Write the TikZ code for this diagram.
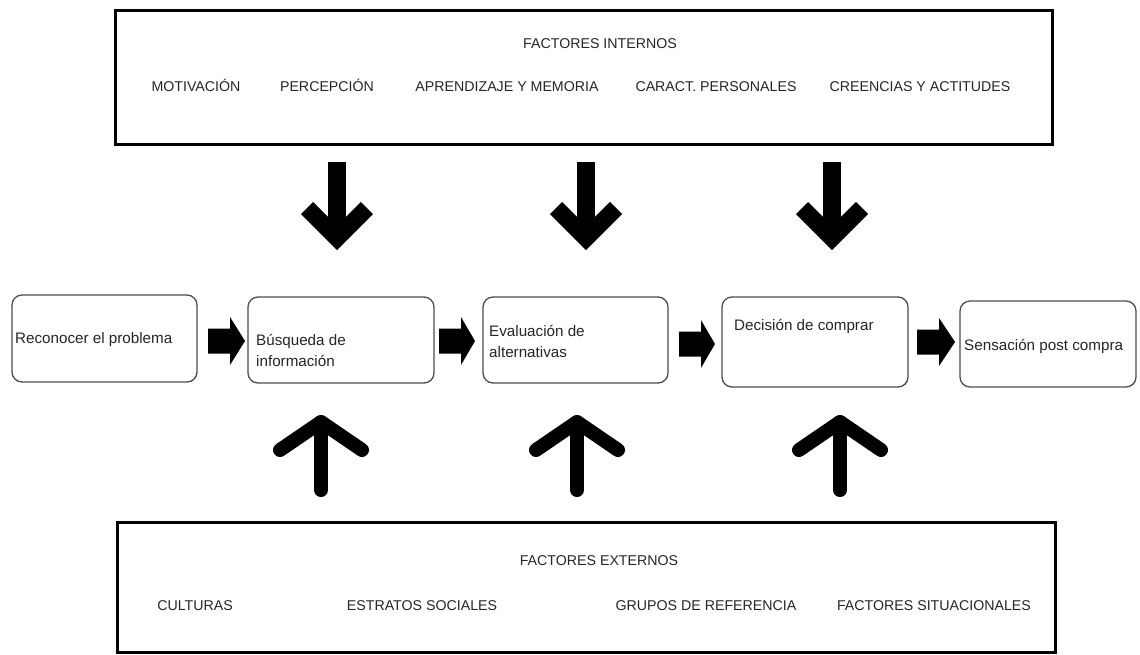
\documentclass[tikz,border=0pt]{standalone}
\usepackage{fontspec}
\setmainfont{Liberation Sans}
\newcommand\myblockarrow[3]{% x0, tip x, center y
  \fill[black] (#1,#3-12.5) -- (#1+22,#3-12.5) -- (#1+22,#3-24) -- (#2,#3) -- (#1+22,#3+24) -- (#1+22,#3+12.5) -- (#1,#3+12.5) -- cycle;}
\newcommand\mydownarrow[1]{%
  \draw[downshaft] (#1,162) -- (#1,238);
  \draw[downhead] (#1-30,208) -- (#1,238) -- (#1+30,208);}
\newcommand\myuparrow[1]{%
  \draw[uparr] (#1,490) -- (#1,422);
  \draw[uparr] (#1-41,450) -- (#1,422) -- (#1+41,450);}
\begin{document}
\begin{tikzpicture}[x=1pt,y=-1pt,
  factorbox/.style={draw=black, line width=3pt, inner sep=0pt},
  procbox/.style={draw=black!70, line width=1.3pt, rounded corners=10pt, inner sep=0pt},
  hdr/.style={font=\fontsize{14.2}{16}\selectfont, text=black!85, inner sep=0pt, anchor=base},
  ptext/.style={font=\fontsize{15.2}{21}\selectfont, text=black!85, align=left, inner sep=0pt, anchor=west},
  downshaft/.style={line width=18pt, line cap=butt},
  downhead/.style={line width=17pt, line cap=butt, line join=miter},
  uparr/.style={line width=14pt, line cap=round, line join=round}]
\useasboundingbox (0,0) rectangle (1140,654);
\fill[white] (0,0) rectangle (1140,654);

% factor boxes
\node[factorbox, minimum width=937pt, minimum height=134pt] (internos) at (583.5,77) {};
\node[factorbox, minimum width=938pt, minimum height=130pt] (externos) at (586,587) {};

\node[hdr] (ti) at (600,48) {FACTORES INTERNOS};
\node[hdr] (i1) at (196,91) {MOTIVACIÓN};
\node[hdr] (i2) at (327,91) {PERCEPCIÓN};
\node[hdr] (i3) at (507,91) {APRENDIZAJE Y MEMORIA};
\node[hdr] (i4) at (716,91) {CARACT. PERSONALES};
\node[hdr] (i5) at (920,91) {CREENCIAS Y ACTITUDES};

\node[hdr] (te) at (599,565) {FACTORES EXTERNOS};
\node[hdr] (e1) at (195,610) {CULTURAS};
\node[hdr] (e2) at (422,610) {ESTRATOS SOCIALES};
\node[hdr] (e3) at (706,610) {GRUPOS DE REFERENCIA};
\node[hdr] (e4) at (934,610) {FACTORES SITUACIONALES};

% process boxes
\node[procbox, minimum width=185pt, minimum height=87pt] (p1) at (104.5,338.5) {};
\node[procbox, minimum width=186pt, minimum height=86pt] (p2) at (341,340) {};
\node[procbox, minimum width=185pt, minimum height=86pt] (p3) at (575.5,340) {};
\node[procbox, minimum width=186pt, minimum height=90pt] (p4) at (815,342) {};
\node[procbox, minimum width=176pt, minimum height=86pt] (p5) at (1048,344) {};

\node[ptext] (t1) at (15,340) {Reconocer el problema};
\node[ptext] (t2) at (256,350.5) {Búsqueda de\\información};
\node[ptext] (t3) at (489,341.5) {Evaluación de\\alternativas};
\node[ptext] (t4) at (734,326) {Decisión de comprar};
\node[ptext] (t5) at (964,346) {Sensación post compra};

% block arrows between process boxes
\myblockarrow{208}{245}{341}
\myblockarrow{439}{475}{341}
\myblockarrow{679}{715}{344}
\myblockarrow{917}{955}{342}

% down arrows
\mydownarrow{337}
\mydownarrow{586}
\mydownarrow{832}

% up arrows
\myuparrow{321}
\myuparrow{577}
\myuparrow{840}
\end{tikzpicture}
\end{document}
